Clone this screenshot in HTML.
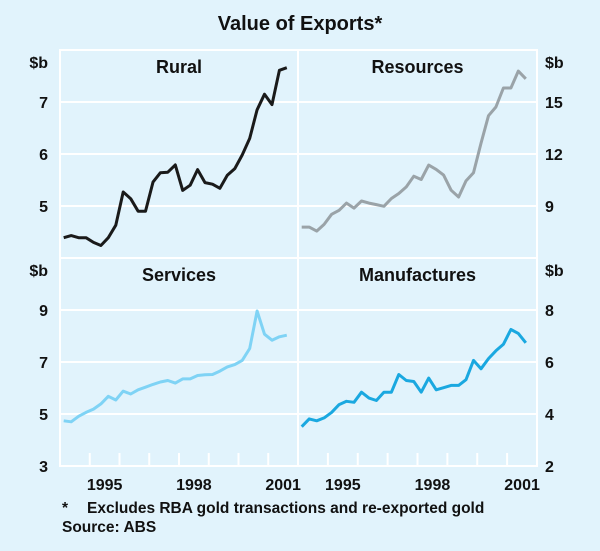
<!DOCTYPE html>
<html><head><meta charset="utf-8"><style>
html,body{margin:0;padding:0;background:#e1f3fc;}
svg{display:block;font-family:"Liberation Sans",Arial,sans-serif;}
</style></head><body>
<svg id="chart" width="600" height="551" viewBox="0 0 600 551">
<rect x="0" y="0" width="600" height="551" fill="#e1f3fc"/>
<text x="300" y="30" text-anchor="middle" font-size="20" font-weight="bold" fill="#111">Value of Exports*</text>
<g id="grid"></g>
<g id="marks"></g>
<g id="labels"></g>
<text x="62" y="513" font-size="15.5" font-weight="bold" fill="#111">*</text>
<text x="87" y="513" font-size="15.5" font-weight="bold" fill="#111">Excludes RBA gold transactions and re-exported gold</text>
<text x="62" y="532" font-size="15.5" font-weight="bold" fill="#111">Source: ABS</text>
</svg>
<script>
const startYear = 1994.125;
const rural = [4.39,4.43,4.39,4.39,4.30,4.24,4.39,4.63,5.27,5.14,4.90,4.90,5.46,5.64,5.65,5.79,5.30,5.40,5.70,5.45,5.42,5.34,5.59,5.72,5.98,6.30,6.85,7.15,6.95,7.61,7.66];
const resources = [7.78,7.78,7.55,7.94,8.52,8.75,9.17,8.88,9.29,9.17,9.08,8.98,9.43,9.72,10.10,10.72,10.53,11.36,11.11,10.78,9.91,9.52,10.45,10.92,12.62,14.21,14.71,15.81,15.81,16.78,16.34];
const services = [4.74,4.70,4.91,5.06,5.19,5.39,5.68,5.54,5.88,5.77,5.93,6.03,6.14,6.23,6.29,6.19,6.35,6.35,6.48,6.51,6.52,6.65,6.81,6.90,7.06,7.52,8.96,8.07,7.84,7.97,8.03];
const manufactures = [3.51,3.81,3.74,3.85,4.06,4.36,4.49,4.45,4.84,4.61,4.52,4.84,4.84,5.52,5.29,5.25,4.84,5.38,4.93,5.01,5.10,5.10,5.32,6.06,5.74,6.13,6.43,6.68,7.25,7.10,6.74];
const ruralTicks = [5,6,7];
const resourcesTicks = [9,12,15];
const servicesTicks = [3,5,7,9];
const manufacturesTicks = [2,4,6,8];
const yearLabels = [1995,1998,2001];

const NS='http://www.w3.org/2000/svg';
const grid=document.getElementById('grid'), marks=document.getElementById('marks'), labels=document.getElementById('labels');
function mk(tag,attrs,parent){const e=document.createElementNS(NS,tag);for(const k in attrs)e.setAttribute(k,attrs[k]);parent.appendChild(e);return e;}

const panels=[
 {name:'rural',title:'Rural',data:rural,ticks:ruralTicks,min:4,max:8,x0:60,x1:298,y0:50,y1:258,color:'#1a1a1a',side:'left'},
 {name:'resources',title:'Resources',data:resources,ticks:resourcesTicks,min:6,max:18,x0:298,x1:537,y0:50,y1:258,color:'#9aa3a8',side:'right'},
 {name:'services',title:'Services',data:services,ticks:servicesTicks,min:3,max:11,x0:60,x1:298,y0:258,y1:466,color:'#7fd3f5',side:'left'},
 {name:'manufactures',title:'Manufactures',data:manufactures,ticks:manufacturesTicks,min:2,max:10,x0:298,x1:537,y0:258,y1:466,color:'#1aa8e0',side:'right'}
];

panels.forEach(p=>{
  const xs=t=>p.x0+(t-1994)/8*(p.x1-p.x0);
  const ys=v=>p.y1-(v-p.min)/(p.max-p.min)*(p.y1-p.y0);
  p.ticks.forEach(v=>{
    const y=ys(v);
    if(v>p.min){
      const l=mk('line',{x1:p.x0,x2:p.x1,y1:y,y2:y,stroke:'#fff','stroke-width':2},grid);
      
      
    }
    const t=mk('text',{x:p.side==='left'?48:545,y:y+6,'text-anchor':p.side==='left'?'end':'start','font-size':16,'font-weight':'bold',fill:'#111'},labels);
    t.textContent=v;
    
    
  });
  const u=mk('text',{x:p.side==='left'?48:545,y:p.y0+18,'text-anchor':p.side==='left'?'end':'start','font-size':16,'font-weight':'bold',fill:'#111'},labels);
  u.textContent='$b';
  
  
  const tt=mk('text',{x:(p.x0+p.x1)/2,y:p.y0+23,'text-anchor':'middle','font-size':18,'font-weight':'bold',fill:'#111'},labels);
  tt.textContent=p.title;
  
  
  const pts=p.data.map((v,i)=>xs(startYear+i*0.25).toFixed(1)+','+ys(v).toFixed(1)).join(' ');
  const pl=mk('polyline',{points:pts,fill:'none',stroke:p.color,'stroke-width':3,'stroke-linejoin':'round'},marks);
  
  
  if(p.y1===466){
    for(let yr=1995;yr<=2001;yr++){
      const x=xs(yr);
      const tk=mk('line',{x1:x,x2:x,y1:453,y2:466,stroke:'#fff','stroke-width':2},grid);
      
      
    }
    yearLabels.forEach(yr=>{
      const t=mk('text',{x:xs(yr+0.5),y:490,'text-anchor':'middle','font-size':16,'font-weight':'bold',fill:'#111'},labels);
      t.textContent=yr;
      
      
    });
  }
});
const fr=mk('rect',{x:60,y:50,width:477,height:416,fill:'none',stroke:'#fff','stroke-width':2},grid);


const dv=mk('line',{x1:298,x2:298,y1:50,y2:466,stroke:'#fff','stroke-width':2},grid);


const hd=mk('line',{x1:60,x2:537,y1:258,y2:258,stroke:'#fff','stroke-width':2},grid);


</script>
</body></html>
